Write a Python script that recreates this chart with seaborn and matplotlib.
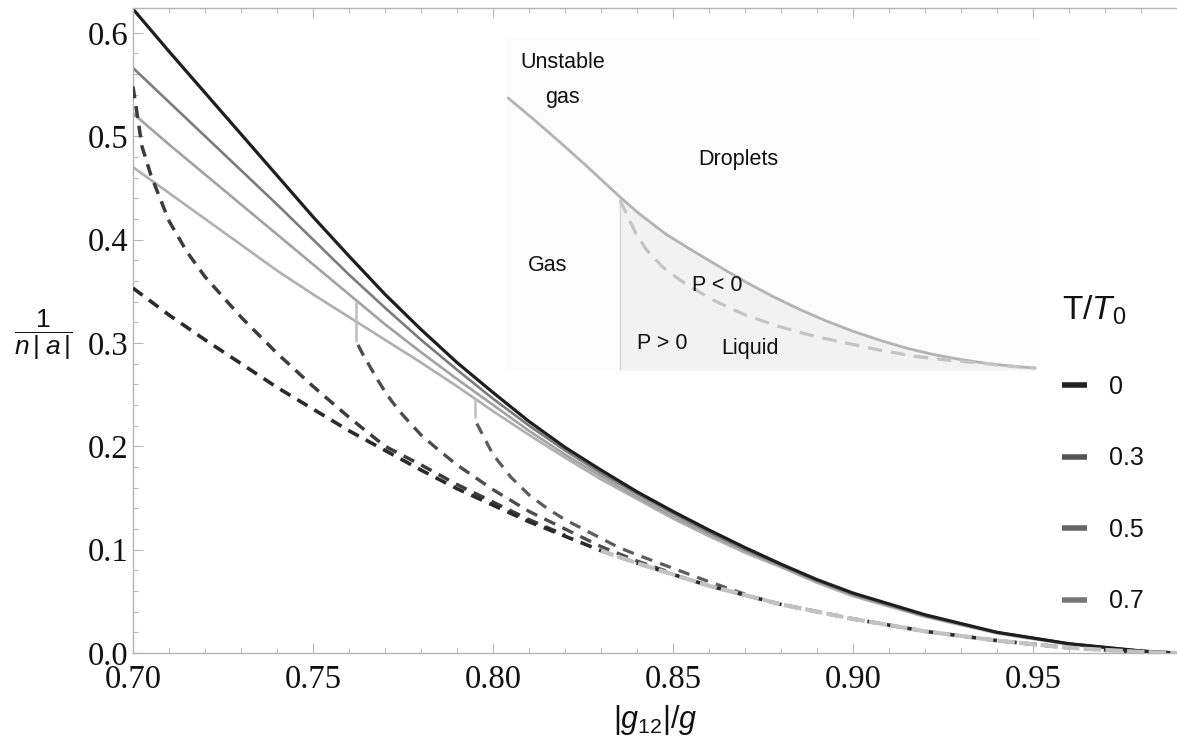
import matplotlib
matplotlib.use("Agg")
import matplotlib.pyplot as plt
from matplotlib.lines import Line2D
from matplotlib.ticker import MultipleLocator
import seaborn as sns

# ---------------- data ----------------
# solid curves: upper boundary for each temperature
SOLID_X = [0.70, 0.71, 0.72, 0.73, 0.74, 0.75, 0.76, 0.77, 0.78, 0.79, 0.80,
           0.81, 0.82, 0.83, 0.84, 0.85, 0.86, 0.87, 0.88, 0.89, 0.90, 0.92,
           0.94, 0.96, 0.98, 0.99]
SOLID_T0 = [0.623, 0.582, 0.542, 0.502, 0.462, 0.422, 0.384, 0.347, 0.313,
            0.281, 0.252, 0.224, 0.199, 0.177, 0.156, 0.137, 0.119, 0.102,
            0.086, 0.071, 0.058, 0.037, 0.020, 0.009, 0.002, 0.000]
SOLID_T03 = [0.566, 0.533, 0.500, 0.467, 0.434, 0.400, 0.366, 0.334, 0.303,
             0.274, 0.246, 0.220, 0.196, 0.174, 0.154, 0.135, 0.117, 0.100,
             0.085, 0.070, 0.057, 0.036, 0.020, 0.009, 0.002, 0.000]
SOLID_T05 = [0.522, 0.492, 0.463, 0.434, 0.405, 0.376, 0.347, 0.318, 0.291,
             0.265, 0.240, 0.215, 0.192, 0.171, 0.151, 0.132, 0.115, 0.099,
             0.084, 0.069, 0.056, 0.036, 0.020, 0.009, 0.002, 0.000]
SOLID_T07 = [0.470, 0.445, 0.420, 0.395, 0.370, 0.347, 0.325, 0.303, 0.281,
             0.258, 0.234, 0.211, 0.189, 0.168, 0.149, 0.130, 0.113, 0.097,
             0.083, 0.068, 0.055, 0.035, 0.019, 0.008, 0.002, 0.000]

# dashed curves
DASH_T0_X = [0.70, 0.71, 0.72, 0.73, 0.74, 0.75, 0.76, 0.77, 0.78, 0.79, 0.80,
             0.81, 0.82, 0.83, 0.84, 0.85, 0.86, 0.87, 0.88, 0.89, 0.90, 0.92,
             0.94, 0.96, 0.98, 0.99]
DASH_T0_Y = [0.353, 0.327, 0.303, 0.280, 0.257, 0.236, 0.215, 0.196, 0.177,
             0.159, 0.143, 0.127, 0.113, 0.099, 0.087, 0.076, 0.065, 0.056,
             0.047, 0.040, 0.033, 0.021, 0.012, 0.005, 0.001, 0.000]
DASH_T03_X = [0.700, 0.7025, 0.705, 0.71, 0.715, 0.72, 0.73, 0.74, 0.75, 0.76,
              0.77, 0.78, 0.79, 0.80, 0.81, 0.82]
DASH_T03_Y = [0.548, 0.490, 0.462, 0.418, 0.388, 0.364, 0.325, 0.290, 0.258,
              0.228, 0.200, 0.182, 0.163, 0.146, 0.129, 0.114]
DASH_T05_X = [0.7625, 0.764, 0.766, 0.768, 0.770, 0.772, 0.775, 0.78, 0.785,
              0.79, 0.795, 0.80, 0.81, 0.82, 0.83, 0.84, 0.85]
DASH_T05_Y = [0.298, 0.288, 0.276, 0.264, 0.253, 0.243, 0.230, 0.211, 0.196,
              0.182, 0.170, 0.158, 0.137, 0.120, 0.103, 0.089, 0.077]
DASH_T07_X = [0.7955, 0.797, 0.80, 0.805, 0.81, 0.815, 0.82, 0.825, 0.83,
              0.835, 0.84, 0.85, 0.86, 0.87]
DASH_T07_Y = [0.222, 0.212, 0.192, 0.170, 0.153, 0.140, 0.129, 0.120, 0.111,
              0.102, 0.095, 0.082, 0.069, 0.057]
# short light branch marks where dashed curves leave the solid ones
HOOK_T05_X = [0.762, 0.762]
HOOK_T05_Y = [0.340, 0.302]
HOOK_T07_X = [0.795, 0.795]
HOOK_T07_Y = [0.246, 0.228]

# legend
LEG_LABELS = ["0", "0.3", "0.5", "0.7"]
LEG_COLORS = ["#222222", "#555555", "#666666", "#777777"]

# ticks
XTICKS = [0.70, 0.75, 0.80, 0.85, 0.90, 0.95]
XTICK_LABELS = ["0.70", "0.75", "0.80", "0.85", "0.90", "0.95"]
YTICKS = [0.0, 0.1, 0.2, 0.3, 0.4, 0.5, 0.6]
YTICK_LABELS = ["0.0", "0.1", "0.2", "0.3", "0.4", "0.5", "0.6"]

# inset sketch (normalised inset coordinates)
INSET_SOLID_X = [0.006, 0.05, 0.10, 0.15, 0.215, 0.25, 0.30, 0.35, 0.40,
                 0.45, 0.50, 0.55, 0.60, 0.65, 0.70, 0.75, 0.80, 0.85, 0.90,
                 0.95, 0.991]
INSET_SOLID_Y = [0.819, 0.760, 0.690, 0.618, 0.521, 0.472, 0.410, 0.360,
                 0.312, 0.265, 0.222, 0.183, 0.148, 0.117, 0.090, 0.066,
                 0.047, 0.032, 0.020, 0.011, 0.006]
INSET_DASH_X = [0.215, 0.230, 0.245, 0.265, 0.295, 0.327, 0.360, 0.389,
                0.420, 0.450, 0.514, 0.575, 0.639, 0.700, 0.763, 0.825,
                0.888, 0.940, 0.991]
INSET_DASH_Y = [0.512, 0.460, 0.410, 0.361, 0.310, 0.271, 0.238, 0.211,
                0.187, 0.165, 0.130, 0.103, 0.081, 0.060, 0.042, 0.030,
                0.021, 0.012, 0.006]
INSET_LABELS = ["Unstable", "gas", "Droplets", "Gas", "P < 0", "P > 0", "Liquid"]
INSET_LABEL_X = [0.108, 0.108, 0.436, 0.080, 0.396, 0.293, 0.458]
INSET_LABEL_Y = [0.925, 0.822, 0.633, 0.316, 0.256, 0.081, 0.066]

# ---------------- style ----------------
sns.set_theme(style="white")
plt.rcParams["font.family"] = ["Liberation Sans", "DejaVu Sans"]
plt.rcParams["mathtext.fontset"] = "custom"
plt.rcParams["mathtext.rm"] = "Liberation Sans"
plt.rcParams["mathtext.it"] = "Liberation Sans:italic"
plt.rcParams["mathtext.bf"] = "Liberation Sans:bold"

W, H = 1177, 745
fig = plt.figure(figsize=(W / 100, H / 100), dpi=100)
fig.patch.set_facecolor("white")
ax = fig.add_axes([133 / W, (H - 653) / H, (W - 133) / W, (653 - 8) / H])
ax.set_facecolor("white")


def line(a, x, y, color, lw, ls="-", z=2):
    sns.lineplot(x=x, y=y, ax=a, color=color, linewidth=lw, linestyle=ls,
                 estimator=None, sort=False, legend=False, zorder=z)


# solid curves (light first, black on top)
line(ax, SOLID_X, SOLID_T07, "#b0b0b0", 1.9, z=2)
line(ax, SOLID_X, SOLID_T05, "#a2a2a2", 1.9, z=2.1)
line(ax, SOLID_X, SOLID_T03, "#7c7c7c", 1.9, z=2.2)
line(ax, SOLID_X, SOLID_T0, "#1e1e1e", 2.3, z=2.3)

# branch marks
line(ax, HOOK_T05_X, HOOK_T05_Y, "#bdbdbd", 1.8, z=2.4)
line(ax, HOOK_T07_X, HOOK_T07_Y, "#bdbdbd", 1.8, z=2.4)

# dashed curves
line(ax, DASH_T07_X, DASH_T07_Y, "#5c5c5c", 2.3, ls=(0, (3.6, 2.6)), z=3)
line(ax, DASH_T05_X, DASH_T05_Y, "#4d4d4d", 2.4, ls=(0, (3.6, 2.4)), z=3.1)
line(ax, DASH_T03_X, DASH_T03_Y, "#3c3c3c", 2.5, ls=(0, (3.4, 2.3)), z=3.2)
line(ax, DASH_T0_X, DASH_T0_Y, "#2a2a2a", 2.6, ls=(0, (3.3, 2.2)), z=3.3)
# merged tail: light dashes covering most of the black pattern
tail_x = [x for x in DASH_T0_X if x >= 0.83]
tail_y = [y for x, y in zip(DASH_T0_X, DASH_T0_Y) if x >= 0.83]
line(ax, tail_x, tail_y, "#c2c2c2", 3.0, ls=(1.0, (4.2, 1.0)), z=3.4)

# axes cosmetics
ax.set_xlim(0.70, 0.99)
ax.set_ylim(0.0, 0.624)
ax.set_xticks(XTICKS, labels=XTICK_LABELS, fontfamily="Liberation Serif",
              fontsize=23.5)
ax.set_yticks(YTICKS, labels=YTICK_LABELS, fontfamily="Liberation Serif",
              fontsize=23.5)
ax.xaxis.set_minor_locator(MultipleLocator(0.01))
ax.yaxis.set_minor_locator(MultipleLocator(0.02))
ax.tick_params(which="both", direction="in", color="#b8b8b8", width=0.8,
               top=True, right=False, bottom=True, left=True,
               labelcolor="#111111")
ax.tick_params(which="major", length=7)
ax.tick_params(which="minor", length=3.5)
ax.tick_params(axis="x", pad=8)
ax.tick_params(axis="y", pad=3)
for side in ["left", "bottom", "top"]:
    ax.spines[side].set_color("#b4b4b4")
    ax.spines[side].set_linewidth(1.0)
ax.spines["right"].set_visible(False)

ax.set_xlabel(r"$|g_{12}|/g$", fontsize=22, color="#111111")
ax.xaxis.set_label_coords(0.5, -0.077)
ax.xaxis.label.set_va("top")
ax.set_ylabel(r"$\dfrac{\mathit{1}}{n\,|\;a\,|}$", fontsize=19, rotation=0,
              color="#111111", ha="center", va="center")
ax.yaxis.set_label_coords(-0.086, 0.493)

# legend
handles = [Line2D([], [], color=c, lw=4, solid_capstyle="butt")
           for c in LEG_COLORS]
leg = ax.legend(handles, LEG_LABELS, title=r"T/$T_0$", loc="upper left",
                bbox_to_anchor=(1062 / W, (H - 294) / H),
                bbox_transform=fig.transFigure, frameon=False, fontsize=18,
                title_fontsize=24, handlelength=1.0, handletextpad=0.9,
                labelspacing=1.9, alignment="left", borderpad=0,
                borderaxespad=0)
for t in leg.get_texts():
    t.set_color("#111111")
leg.get_title().set_color("#111111")

# inset sketch
axi = fig.add_axes([505 / W, (H - 370) / H, 535 / W, 332 / H])
axi.set_facecolor("#fcfcfc")
axi.set_xlim(0, 1)
axi.set_ylim(0, 1)
axi.set_xticks([])
axi.set_yticks([])
for s in axi.spines.values():
    s.set_visible(False)
fill_x = [x for x in INSET_SOLID_X if x >= 0.215]
fill_y = [y for x, y in zip(INSET_SOLID_X, INSET_SOLID_Y) if x >= 0.215]
axi.fill_between(fill_x, 0, fill_y, color="#f2f2f2", lw=0, zorder=1)
line(axi, [0.215, 0.215], [0.0, 0.521], "#d2d2d2", 1.0, z=2)
line(axi, INSET_SOLID_X, INSET_SOLID_Y, "#b3b3b3", 2.0, z=3)
line(axi, INSET_DASH_X, INSET_DASH_Y, "#c4c4c4", 2.3, ls=(0, (4.5, 2.8)), z=3)
for lab, x, y in zip(INSET_LABELS, INSET_LABEL_X, INSET_LABEL_Y):
    axi.text(x, y, lab, ha="center", va="center", fontsize=15.5,
             color="#111111", zorder=4)

fig.savefig("out.png", dpi=100, facecolor="white")
